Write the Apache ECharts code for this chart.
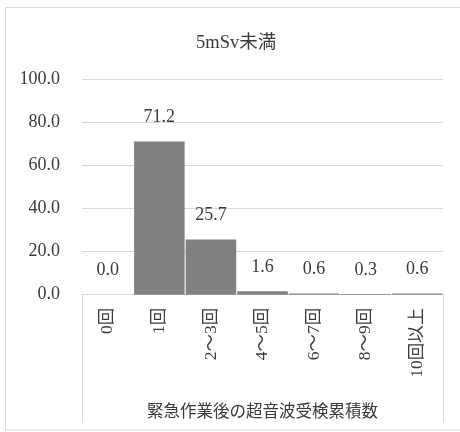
<!DOCTYPE html>
<html>
<head>
<meta charset="utf-8">
<script src="https://cdn.jsdelivr.net/npm/echarts@6/dist/echarts.min.js"></script>
<style>html,body{margin:0;padding:0;background:#fff;}#c{width:460px;height:432px;}</style>
</head>
<body>
<div id="c"></div>
<script>
var titleText = '5mSv未満';
var axisTitle = '緊急作業後の超音波受検累積数';
var categories = ['0回', '1回', '2～3回', '4～5回', '6～7回', '8～9回', '10回以上'];
var values = [0.0, 71.2, 25.7, 1.6, 0.6, 0.3, 0.6];
var yTicks = [0, 20, 40, 60, 80, 100];

var FONT = "'Liberation Serif', 'DejaVu Serif', 'Noto Sans CJK JP', serif";
var TXT = '#3a3a3a';
var chart = echarts.init(document.getElementById('c'), null, {renderer: 'canvas'});
chart.setOption({
  animation: false,
  backgroundColor: '#fff',
  title: {
    text: titleText,
    left: 191, top: 29,
    textStyle: {fontFamily: FONT, fontSize: 18.5, fontWeight: 'normal', color: TXT}
  },
  grid: {left: 82, right: 17, top: 79.7, bottom: 137.3, containLabel: false},
  xAxis: {
    type: 'category',
    data: categories,
    name: axisTitle,
    nameLocation: 'middle',
    nameGap: 110,
    nameTextStyle: {fontFamily: FONT, fontSize: 16.5, color: TXT},
    axisLine: {show: true, lineStyle: {color: '#d9d9d9', width: 1}},
    axisTick: {show: false},
    axisLabel: {rotate: 90, margin: 13, fontFamily: FONT, fontSize: 17.5, color: TXT}
  },
  yAxis: {
    type: 'value',
    min: yTicks[0], max: yTicks[yTicks.length - 1], interval: 20,
    axisLine: {show: false},
    axisTick: {show: false},
    splitLine: {lineStyle: {color: '#d9d9d9', width: 1}},
    axisLabel: {margin: 22, fontFamily: FONT, fontSize: 18, color: TXT,
      formatter: function (v) { return v.toFixed(1); }}
  },
  series: [{
    type: 'bar',
    data: values,
    barCategoryGap: '2%',
    itemStyle: {color: '#808080'},
    label: {
      show: true, position: 'top', distance: 15,
      fontFamily: FONT, fontSize: 18, color: TXT,
      formatter: function (p) { return p.value.toFixed(1); }
    }
  }],
  graphic: [
    {type: 'rect', silent: true, z: -1,
      shape: {x: 5.5, y: 7.5, width: 470, height: 422.5},
      style: {fill: null, stroke: '#d9d9d9', lineWidth: 1}},
    {type: 'line', silent: true,
      shape: {x1: 82.5, y1: 295, x2: 82.5, y2: 422},
      style: {stroke: '#d9d9d9', lineWidth: 1}},
    {type: 'line', silent: true,
      shape: {x1: 443.5, y1: 295, x2: 443.5, y2: 422},
      style: {stroke: '#d9d9d9', lineWidth: 1}}
  ]
});
</script>
</body>
</html>
